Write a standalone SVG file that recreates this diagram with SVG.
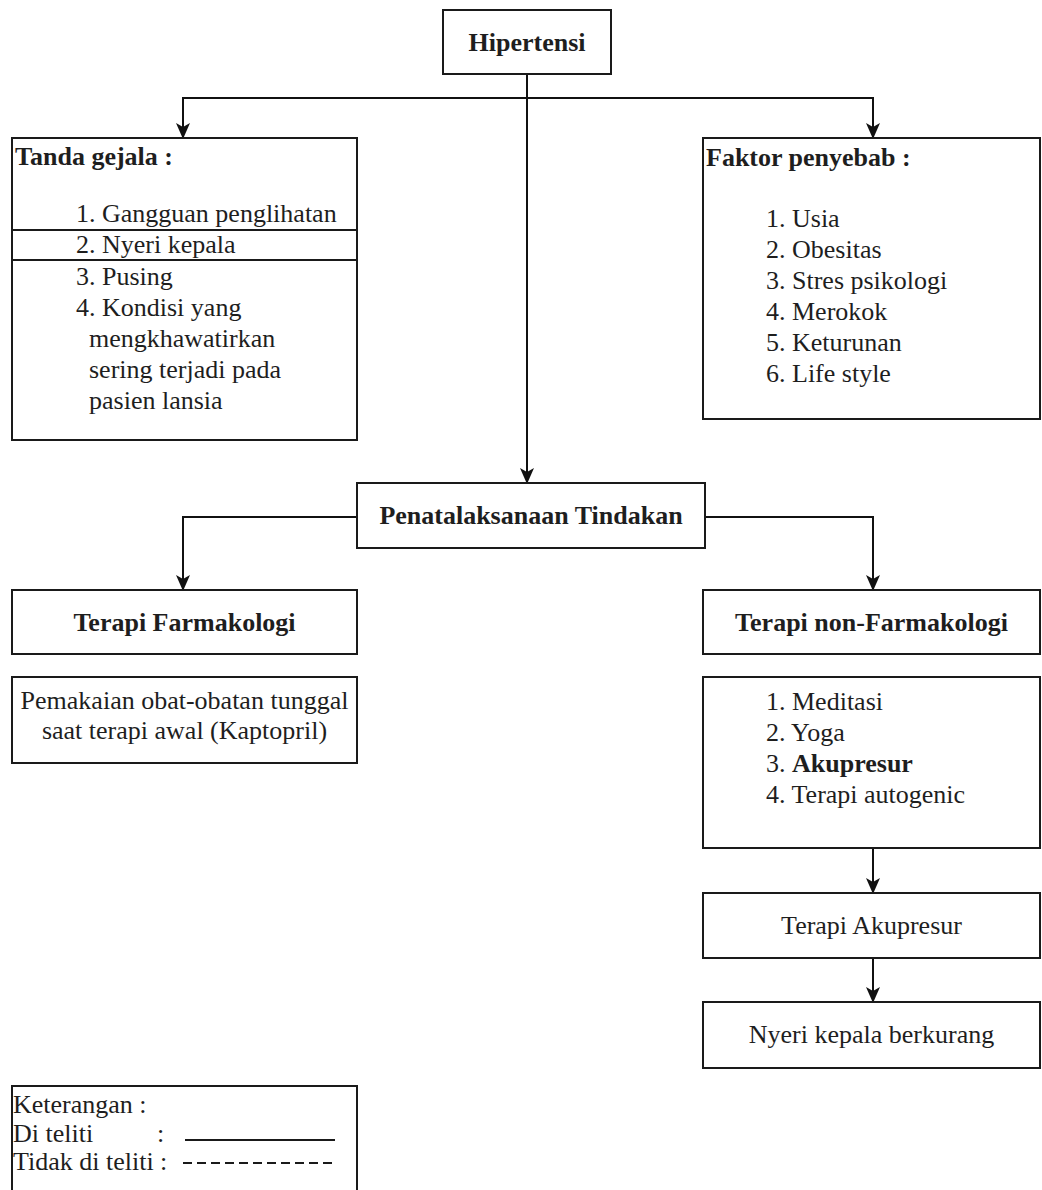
<svg xmlns="http://www.w3.org/2000/svg" width="1042" height="1190" viewBox="0 0 1042 1190">
<defs>
<marker id="arr" markerUnits="userSpaceOnUse" markerWidth="16" markerHeight="14" viewBox="0 0 16 14" refX="15" refY="7" orient="auto">
<path d="M0,0 L16,7 L0,14 L4,7 z" fill="#111"/>
</marker>
<style>
.box{fill:#fff;stroke:#1a1a1a;stroke-width:2}
.t{font-family:"Liberation Serif","Times New Roman",serif;font-size:26px;fill:#1e1e1e}
.b{font-weight:bold}
.c{text-anchor:middle}
.edge{fill:none;stroke:#111;stroke-width:2;marker-end:url(#arr)}
</style>
</defs>
<rect width="1042" height="1190" fill="#fff"/>

<g id="connectors">
<path class="edge" d="M527,74 V483"/>
<path class="edge" d="M527,98 H183 V138"/>
<path class="edge" d="M527,98 H873 V138"/>
<path class="edge" d="M357,517 H183 V590"/>
<path class="edge" d="M705,517 H873 V590"/>
<path class="edge" d="M873,848 V893"/>
<path class="edge" d="M873,958 V1002"/>
</g>

<g id="hipertensi">
<rect class="box" x="443" y="10" width="168" height="64"/>
<text class="t b c" x="527" y="51">Hipertensi</text>
</g>

<g id="tanda-gejala">
<rect class="box" x="12" y="138" width="345" height="302"/>
<line x1="12" y1="230" x2="357" y2="230" stroke="#1a1a1a" stroke-width="2"/>
<line x1="12" y1="260" x2="357" y2="260" stroke="#1a1a1a" stroke-width="2"/>
<text class="t b" x="15" y="165">Tanda gejala :</text>
<text class="t" x="76" y="222">1. Gangguan penglihatan</text>
<text class="t" x="76" y="253">2. Nyeri kepala</text>
<text class="t" x="76" y="285">3. Pusing</text>
<text class="t" x="76" y="316">4. Kondisi yang</text>
<text class="t" x="89" y="347">mengkhawatirkan</text>
<text class="t" x="89" y="378">sering terjadi pada</text>
<text class="t" x="89" y="409">pasien lansia</text>
</g>

<g id="faktor-penyebab">
<rect class="box" x="703" y="138" width="337" height="281"/>
<text class="t b" x="706" y="166">Faktor penyebab :</text>
<text class="t" x="766" y="227">1. Usia</text>
<text class="t" x="766" y="258">2. Obesitas</text>
<text class="t" x="766" y="289">3. Stres psikologi</text>
<text class="t" x="766" y="320">4. Merokok</text>
<text class="t" x="766" y="351">5. Keturunan</text>
<text class="t" x="766" y="382">6. Life style</text>
</g>

<g id="penatalaksanaan">
<rect class="box" x="357" y="483" width="348" height="65"/>
<text class="t b c" x="531" y="524">Penatalaksanaan Tindakan</text>
</g>

<g id="terapi-farmakologi">
<rect class="box" x="12" y="590" width="345" height="64"/>
<text class="t b c" x="184.5" y="631">Terapi Farmakologi</text>
</g>

<g id="pemakaian-obat">
<rect class="box" x="12" y="677" width="345" height="86"/>
<text class="t c" x="184.5" y="709">Pemakaian obat-obatan tunggal</text>
<text class="t c" x="184.5" y="739">saat terapi awal (Kaptopril)</text>
</g>

<g id="terapi-non-farmakologi">
<rect class="box" x="703" y="590" width="337" height="64"/>
<text class="t b c" x="871.5" y="631">Terapi non-Farmakologi</text>
</g>

<g id="non-farmakologi-list">
<rect class="box" x="703" y="677" width="337" height="171"/>
<text class="t" x="766" y="710">1. Meditasi</text>
<text class="t" x="766" y="741">2. Yoga</text>
<text class="t" x="766" y="772">3. <tspan font-weight="bold">Akupresur</tspan></text>
<text class="t" x="766" y="803">4. Terapi autogenic</text>
</g>

<g id="terapi-akupresur">
<rect class="box" x="703" y="893" width="337" height="65"/>
<text class="t c" x="871.5" y="934">Terapi Akupresur</text>
</g>

<g id="nyeri-berkurang">
<rect class="box" x="703" y="1002" width="337" height="66"/>
<text class="t c" x="871.5" y="1043">Nyeri kepala berkurang</text>
</g>

<g id="keterangan">
<rect class="box" x="12" y="1086" width="345" height="120"/>
<text class="t" x="13" y="1113">Keterangan :</text>
<text class="t" x="13" y="1142">Di teliti</text>
<text class="t" x="157" y="1142">:</text>
<line x1="185" y1="1140" x2="335" y2="1140" stroke="#1a1a1a" stroke-width="2"/>
<text class="t" x="13" y="1170">Tidak di teliti :</text>
<line x1="183" y1="1163" x2="335" y2="1163" stroke="#1a1a1a" stroke-width="2" stroke-dasharray="9,5"/>
</g>
</svg>
